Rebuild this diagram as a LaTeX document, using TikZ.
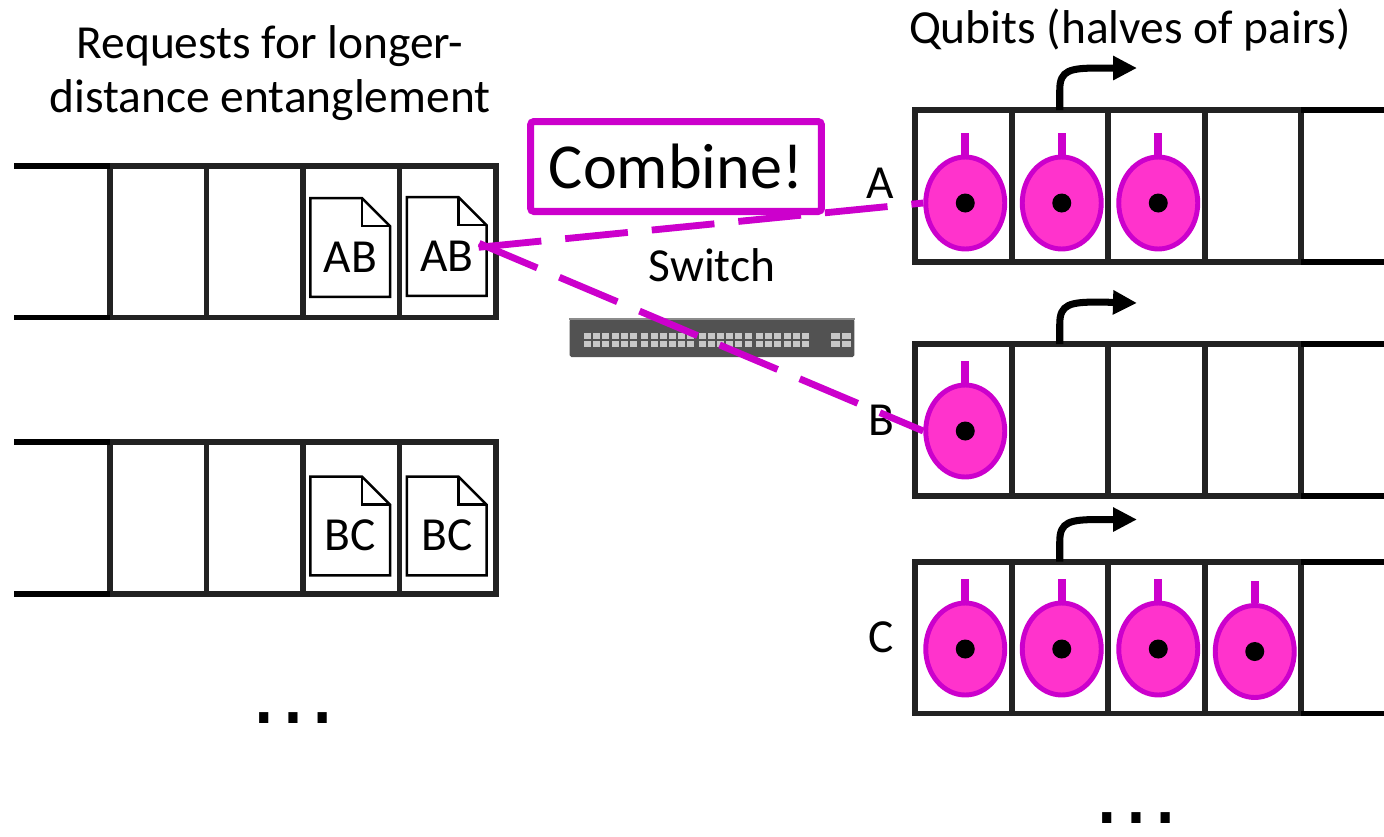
\documentclass[tikz,border=0pt]{standalone}
\usepackage{fontspec}
\setmainfont{Carlito}
\newfontfamily\dotsfont{DejaVu Sans}
\usepackage{tikz}
\usetikzlibrary{shapes.geometric, arrows.meta, positioning, calc}
\definecolor{qline}{HTML}{222222}
\definecolor{qedge}{HTML}{CC00CC}
\definecolor{qfill}{HTML}{FF33CC}
\tikzstyle{cell} = [rectangle, draw=qline, line width=3.4pt, minimum width=1.93cm,
    minimum height=3.04cm, inner sep=0pt, outer sep=0pt]
\tikzstyle{rail} = [draw=black, line width=3.4pt]
\tikzstyle{qubit} = [ellipse, draw=qedge, fill=qfill, line width=2.8pt,
    minimum width=1.58cm, minimum height=1.84cm, inner sep=0pt]
\tikzstyle{qstem} = [draw=qedge, line width=4.5pt]
\tikzstyle{doc} = [rectangle, minimum width=1.58cm, minimum height=1.96cm, inner sep=0pt,
    text height=28pt, text depth=0pt, font=\fontsize{27}{31}\selectfont]
\tikzstyle{docline} = [draw=black, line width=1.4pt, line join=miter]
\tikzstyle{combine} = [rectangle, draw=qedge, fill=white, line width=4pt, rounded corners=2pt,
    minimum width=5.82cm, minimum height=1.8cm, font=\fontsize{36.5}{40}\selectfont]
\tikzstyle{lbl} = [font=\fontsize{27}{31}\selectfont]
\tikzstyle{link} = [draw=qedge, line width=3.9pt, dash pattern=on 1.26cm off 0.48cm]
\tikzstyle{move} = [draw=black, line width=4pt, -{Triangle[length=0.48cm, width=0.46cm]}]
\tikzstyle{switchbody} = [rectangle, fill=black!68, rounded corners=1pt,
    minimum width=5.7cm, minimum height=0.76cm, inner sep=0pt]
\tikzstyle{port} = [fill=black!22]
\tikzstyle{dots} = [font=\fontsize{50}{54}\dotsfont, inner sep=0pt]
% outline of a page with a folded corner around a doc node
\newcommand{\drawdoc}[1]{%
  \draw [docline] (#1.south west) -- (#1.north west) -- ([xshift=-0.56cm]#1.north east)
    -- ([yshift=-0.56cm]#1.north east) -- (#1.south east) -- cycle;
  \draw [docline] ([xshift=-0.56cm]#1.north east) |- ([yshift=-0.56cm]#1.north east);}

\begin{document}
\begin{tikzpicture}[x=0.02cm, y=-0.02cm]
  \useasboundingbox (0,0) rectangle (1384,836);
  % Request queues
  \foreach \i/\x in {1/158.25, 2/254.75, 3/351.25, 4/447.75} {
    \node [cell] (r\i) at (\x,241.5) {};
    \node [cell] (s\i) at (\x,518) {};
  }
  \draw [rail] (r1.north west) -- ++(-96,0) (r1.south west) -- ++(-96,0);
  \draw [rail] (s1.north west) -- ++(-96,0) (s1.south west) -- ++(-96,0);
  \node [doc] (ab1) at ($(r3)+(-1,6)$) {AB};
  \node [doc] (ab2) at ($(r4)+(-1,5)$) {AB};
  \node [doc] (bc1) at ($(s3)+(-1,8)$) {BC};
  \node [doc] (bc2) at ($(s4)+(-1,8)$) {BC};
  \foreach \d in {ab1, ab2, bc1, bc2} {\drawdoc{\d}}
  \node [lbl, align=center] (requests) at (270,73) {Requests for longer-\\distance entanglement};
  \node [dots] (moreleft) at (293,718) {…};

  % Qubit queues
  \foreach \i/\x in {1/963.25, 2/1059.75, 3/1156.25, 4/1252.75} {
    \node [cell] (a\i) at (\x,186) {};
    \node [cell] (b\i) at (\x,420) {};
    \node [cell] (c\i) at (\x,637.5) {};
  }
  \draw [rail] (a4.north east) -- ++(90,0) (a4.south east) -- ++(90,0);
  \draw [rail] (b4.north east) -- ++(90,0) (b4.south east) -- ++(90,0);
  \draw [rail] (c4.north east) -- ++(90,0) (c4.south east) -- ++(90,0);
  \foreach \q/\c/\dy in {qa1/a1/17, qa2/a2/17, qa3/a3/17, qb1/b1/11,
                         qc1/c1/11.5, qc2/c2/11.5, qc3/c3/11.5, qc4/c4/14} {
    \node [qubit] (\q) at ($(\c)+(2,\dy)$) {};
    \draw [qstem] (\q.north) -- ++(0,-22);
    \fill (\q.center) circle (0.19cm);
  }
  \node [lbl, left=0.3cm of a1, yshift=0.06cm] (la) {A};
  \node [lbl, left=0.3cm of b1] (lb) {B};
  \node [lbl, left=0.3cm of c1] (lc) {C};
  \node [lbl] (qubits) at (1130,30) {Qubits (halves of pairs)};
  \node [dots] (moreright) at (1136,818) {…};

  % Outgoing arrows
  \coordinate (outa) at (1137,68);
  \coordinate (outb) at (1137,303);
  \coordinate (outc) at (1137,519.5);
  \draw [move] (a2.north) -- ++(0,-20) .. controls +(0,-20) and +(-30,0) .. ++(40,-22) -- (outa);
  \draw [move] (b2.north) -- ++(0,-20) .. controls +(0,-20) and +(-30,0) .. ++(40,-22) -- (outb);
  \draw [move] (c2.north) -- ++(0,-20) .. controls +(0,-20) and +(-30,0) .. ++(40,-22) -- (outc);

  % Switch
  \node [switchbody] (switch) at (712,338) {};
  \draw [black!45, line width=1pt] (switch.north west) -- (switch.north east);
  \begin{scope}[shift={(switch.center)}]
    \foreach \g in {0,...,3}
      \foreach \k in {0,...,5}
        \foreach \rw in {-2,6}
          \fill [port] (-128+\g*57.3+\k*9.2, \rw-3) rectangle ++(7,6);
    \foreach \k in {0,1}
      \foreach \rw in {-2,6}
        \fill [port] (119+\k*11, \rw-3) rectangle ++(9,6);
  \end{scope}
  \node [lbl, above=0.62cm of switch] (switchlbl) {Switch};

  % Draw edges
  \draw [link, shorten <=-0.16cm] (ab2.east) -- (qa1.west);
  \draw [link, shorten <=-0.16cm] (ab2.east) -- (qb1.west);
  \node [combine] (combine) at (676,166.5) {Combine!};
\end{tikzpicture}
\end{document}
